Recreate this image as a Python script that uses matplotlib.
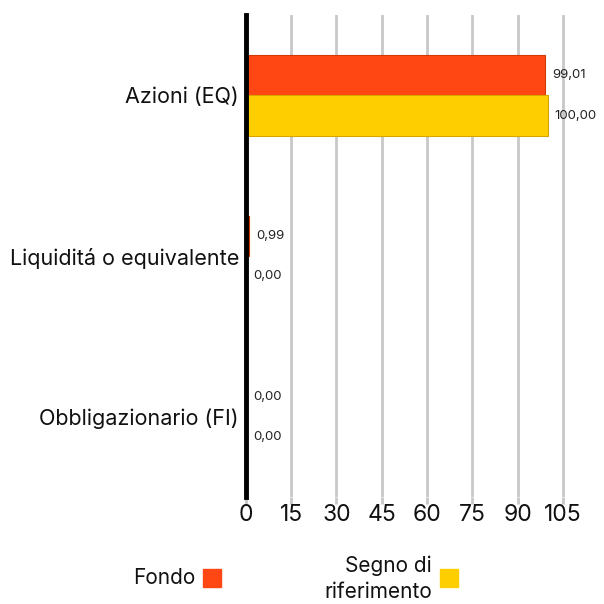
import matplotlib
matplotlib.use('Agg')
import matplotlib.pyplot as plt
from matplotlib.patches import Rectangle
import numpy as np

plt.rcParams['font.family'] = ['Inter', 'DejaVu Sans']

# dati
categorie = ['Azioni (EQ)', 'Liquiditá o equivalente', 'Obbligazionario (FI)']
fondo = [99.01, 0.99, 0.00]
benchmark = [100.00, 0.00, 0.00]
ticks = [0, 15, 30, 45, 60, 75, 90, 105]
serie_nomi = ['Fondo', 'Segno di\nriferimento']
col_fondo = '#FF4713'
col_bench = '#FFCE00'

fig = plt.figure(figsize=(6.04, 6.04), dpi=100)
ax = fig.add_axes([0.407, 0.177, 0.55, 0.798])

y = np.arange(len(categorie))
h = 0.25
ax.barh(y - h / 2, fondo, height=h, color=col_fondo, edgecolor='#D03A00', linewidth=0.8, zorder=3)
ax.barh(y + h / 2, benchmark, height=h, color=col_bench, edgecolor='#D9A400', linewidth=0.8, zorder=3)

# etichette valori
for yi, v in zip(y - h / 2, fondo):
    ax.annotate(f'{v:.2f}'.replace('.', ','), (v, yi), xytext=(5, 0), textcoords='offset points',
                va='center', ha='left', fontsize=9.5, color='#222222')
for yi, v in zip(y + h / 2, benchmark):
    ax.annotate(f'{v:.2f}'.replace('.', ','), (v, yi), xytext=(5, 0), textcoords='offset points',
                va='center', ha='left', fontsize=9.5, color='#222222')

ax.set_xlim(0, 110)
ax.set_ylim(len(categorie) - 0.5, -0.5)
ax.set_yticks(y)
ax.set_yticklabels(categorie, fontsize=15.5, color='#111111')
ax.set_xticks(ticks)
ax.set_xticklabels([str(t) for t in ticks], fontsize=16.5, color='#111111')
ax.tick_params(axis='y', length=0, pad=5)
ax.tick_params(axis='x', length=5, width=2, color='#c8c8c8', pad=0)

ax.grid(axis='x', color='#c8c8c8', linewidth=2, zorder=0)
for s in ['top', 'right', 'bottom']:
    ax.spines[s].set_visible(False)
ax.spines['left'].set_linewidth(3.5)
ax.spines['left'].set_color('black')
ax.spines['left'].set_zorder(4)
ax.get_xticklines()[0].set_color('black')

# legenda
fig.text(195 / 604, 1 - 578 / 604, serie_nomi[0], ha='right', va='center', fontsize=15, color='#111111')
fig.patches.append(Rectangle((203 / 604, 1 - 587 / 604), 18 / 604, 18 / 604,
                             transform=fig.transFigure, color=col_fondo))
fig.text(432 / 604, 1 - 579 / 604, serie_nomi[1], ha='right', va='center', fontsize=15,
         color='#111111', linespacing=1.4)
fig.patches.append(Rectangle((440 / 604, 1 - 587 / 604), 18 / 604, 18 / 604,
                             transform=fig.transFigure, color=col_bench))

fig.savefig('out.png', dpi=100)
